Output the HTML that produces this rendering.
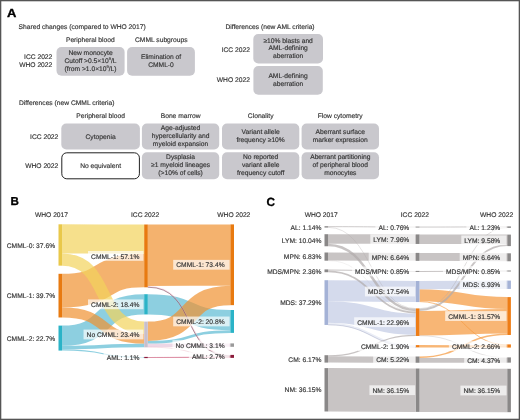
<!DOCTYPE html>
<html><head><meta charset="utf-8"><style>
html,body{margin:0;padding:0;background:#fff;}
body{width:520px;height:420px;overflow:hidden;}
svg{display:block;will-change:transform;text-rendering:geometricPrecision;font-family:"Liberation Sans",sans-serif;font-size:6.7px;fill:#333;}
text{stroke:#333;stroke-width:0.15px;}
</style></head><body>
<svg width="520" height="420" viewBox="0 0 520 420">
<rect x="0" y="0" width="520" height="420" fill="#fff"/>
<text transform="translate(6.9,16.85) scale(1.1,1)" font-size="11.8" font-weight="bold" fill="#000" style="stroke:#000;stroke-width:0.35px">A</text>
<text x="18.60" y="29.00">Shared changes (compared to WHO 2017)</text>
<text x="90.30" y="42.00" text-anchor="middle">Peripheral blood</text>
<text x="161.30" y="42.00" text-anchor="middle">CMML subgroups</text>
<text x="52.30" y="59.10" text-anchor="end">ICC 2022</text>
<text x="52.30" y="66.90" text-anchor="end">WHO 2022</text>
<rect x="56.50" y="47.00" width="68.10" height="28.70" rx="5" fill="#c9c8cd"/>
<text x="90.50" y="55.10" text-anchor="middle">New monocyte</text>
<text x="90.5" y="62.9" text-anchor="middle">Cutoff &gt;0.5×10<tspan font-size="4" dy="-2.6">9</tspan><tspan dy="2.6">/L</tspan></text>
<text x="90.5" y="70.6" text-anchor="middle">(from &gt;1.0×10<tspan font-size="4" dy="-2.6">9</tspan><tspan dy="2.6">/L)</tspan></text>
<rect x="127.10" y="47.00" width="67.80" height="28.70" rx="5" fill="#c9c8cd"/>
<text x="161.00" y="59.10" text-anchor="middle">Elimination of</text>
<text x="161.00" y="66.90" text-anchor="middle">CMML-0</text>
<text x="225.40" y="28.50">Differences (new AML criteria)</text>
<text x="249.90" y="51.50" text-anchor="end">ICC 2022</text>
<text x="249.90" y="82.00" text-anchor="end">WHO 2022</text>
<rect x="253.30" y="34.10" width="69.70" height="29.40" rx="5" fill="#c9c8cd"/>
<text x="288.15" y="42.50" text-anchor="middle">≥10% blasts and</text>
<text x="288.15" y="50.30" text-anchor="middle">AML-defining</text>
<text x="288.15" y="58.10" text-anchor="middle">aberration</text>
<rect x="253.40" y="66.00" width="69.40" height="28.80" rx="5" fill="#c9c8cd"/>
<text x="288.10" y="77.85" text-anchor="middle">AML-defining</text>
<text x="288.10" y="85.65" text-anchor="middle">aberration</text>
<text x="19.00" y="104.80">Differences (new CMML criteria)</text>
<text x="100.60" y="118.20" text-anchor="middle">Peripheral blood</text>
<text x="180.60" y="118.20" text-anchor="middle">Bone marrow</text>
<text x="260.70" y="118.20" text-anchor="middle">Clonality</text>
<text x="340.20" y="118.20" text-anchor="middle">Flow cytometry</text>
<text x="58.30" y="138.70" text-anchor="end">ICC 2022</text>
<text x="58.30" y="168.00" text-anchor="end">WHO 2022</text>
<rect x="61.30" y="123.50" width="78.60" height="26.00" rx="5" fill="#c9c8cd"/>
<text x="100.60" y="138.50" text-anchor="middle">Cytopenia</text>
<rect x="141.90" y="123.50" width="77.30" height="26.00" rx="5" fill="#c9c8cd"/>
<text x="180.55" y="130.10" text-anchor="middle">Age-adjusted</text>
<text x="180.55" y="137.90" text-anchor="middle">hypercellularity and</text>
<text x="180.55" y="145.70" text-anchor="middle">myeloid expansion</text>
<rect x="222.00" y="123.50" width="77.30" height="26.00" rx="5" fill="#c9c8cd"/>
<text x="260.65" y="134.10" text-anchor="middle">Variant allele</text>
<text x="260.65" y="141.90" text-anchor="middle">frequency ≥10%</text>
<rect x="301.60" y="123.50" width="77.40" height="26.00" rx="5" fill="#c9c8cd"/>
<text x="340.30" y="134.10" text-anchor="middle">Aberrant surface</text>
<text x="340.30" y="141.90" text-anchor="middle">marker expression</text>
<rect x="61.80" y="152.80" width="77.60" height="26.00" rx="5" fill="#fff" stroke="#222" stroke-width="1"/>
<text x="100.60" y="167.60" text-anchor="middle">No equivalent</text>
<rect x="141.90" y="152.30" width="77.30" height="27.00" rx="5" fill="#c9c8cd"/>
<text x="180.55" y="159.40" text-anchor="middle">Dysplasia</text>
<text x="180.55" y="167.20" text-anchor="middle">≥1 myeloid lineages</text>
<text x="180.55" y="175.00" text-anchor="middle">(&gt;10% of cells)</text>
<rect x="222.00" y="152.30" width="77.30" height="27.00" rx="5" fill="#c9c8cd"/>
<text x="260.65" y="159.40" text-anchor="middle">No reported</text>
<text x="260.65" y="167.20" text-anchor="middle">variant allele</text>
<text x="260.65" y="175.00" text-anchor="middle">frequency cutoff</text>
<rect x="301.60" y="152.30" width="77.40" height="27.00" rx="5" fill="#c9c8cd"/>
<text x="340.30" y="159.40" text-anchor="middle">Aberrant partitioning</text>
<text x="340.30" y="167.20" text-anchor="middle">of peripheral blood</text>
<text x="340.30" y="175.00" text-anchor="middle">monocytes</text>
<text transform="translate(10.6,205.0) scale(1.0,1)" font-size="11.6" font-weight="bold" fill="#000" style="stroke:#000;stroke-width:0.3px">B</text>
<text x="51.50" y="216.70" text-anchor="middle">WHO 2017</text>
<text x="145.10" y="216.70" text-anchor="middle">ICC 2022</text>
<text x="233.80" y="216.70" text-anchor="middle">WHO 2022</text>
<path d="M147.80,255.19 C197.36,255.19 180.84,255.09 230.40,255.09" fill="none" stroke="#ef9230" stroke-opacity="0.7" stroke-width="61.38"/>
<path d="M62.10,290.63 C111.36,290.63 94.94,270.48 144.20,270.48" fill="none" stroke="#ef9230" stroke-opacity="0.7" stroke-width="33.66"/>
<path d="M62.10,238.88 C111.36,238.88 94.94,239.07 144.20,239.07" fill="none" stroke="#f2d35b" stroke-opacity="0.7" stroke-width="29.15"/>
<path d="M62.10,335.72 C111.36,335.72 94.94,304.32 144.20,304.32" fill="none" stroke="#5cbad3" stroke-opacity="0.7" stroke-width="20.24"/>
<path d="M147.80,304.32 C197.36,304.32 180.84,320.12 230.40,320.12" fill="none" stroke="#5cbad3" stroke-opacity="0.7" stroke-width="20.24"/>
<path d="M147.80,331.28 C197.36,331.28 180.84,295.46 230.40,295.46" fill="none" stroke="#ef9230" stroke-opacity="0.7" stroke-width="19.36"/>
<path d="M62.10,259.56 C111.36,259.56 94.94,327.71 144.20,327.71" fill="none" stroke="#f2d35b" stroke-opacity="0.7" stroke-width="12.21"/>
<path d="M62.10,312.47 C111.36,312.47 94.94,338.81 144.20,338.81" fill="none" stroke="#ef9230" stroke-opacity="0.7" stroke-width="10.01"/>
<path d="M62.10,347.60 C111.36,347.60 94.94,345.58 144.20,345.58" fill="none" stroke="#5cbad3" stroke-opacity="0.7" stroke-width="3.52"/>
<path d="M147.80,345.31 C197.36,345.31 180.84,345.11 230.40,345.11" fill="none" stroke="#e6c6dc" stroke-opacity="0.7" stroke-width="3.41"/>
<path d="M147.80,342.28 C197.36,342.28 180.84,331.56 230.40,331.56" fill="none" stroke="#5cbad3" stroke-opacity="0.7" stroke-width="2.64"/>
<path d="M147.80,286.60 C197.36,286.60 180.84,355.62 230.40,355.62" fill="none" stroke="#f0b0c4" stroke-opacity="0.45" stroke-width="1.43"/>
<path d="M147.80,287.20 C197.36,287.20 180.84,356.22 230.40,356.22" fill="none" stroke="#6a4050" stroke-opacity="0.75" stroke-width="0.7"/>
<path d="M62.10,349.97 C111.36,349.97 94.94,357.50 144.20,357.50" fill="none" stroke="#5cbad3" stroke-opacity="0.7" stroke-width="1.21"/>
<path d="M147.80,357.50 C197.36,357.50 180.84,357.26 230.40,357.26" fill="none" stroke="#e890a8" stroke-opacity="0.6" stroke-width="1.21"/>
<path d="M147.80,357.50 C197.36,357.50 180.84,357.26 230.40,357.26" fill="none" stroke="#b03050" stroke-opacity="0.6" stroke-width="0.5"/>
<path d="M147.80,347.18 C197.36,347.18 180.84,356.50 230.40,356.50" fill="none" stroke="#d06080" stroke-opacity="0.6" stroke-width="0.33"/>
<rect x="58.50" y="224.30" width="3.60" height="41.36" rx="0" fill="#e9c84a"/>
<rect x="58.50" y="273.80" width="3.60" height="43.67" rx="0" fill="#e87a10"/>
<rect x="58.50" y="325.60" width="3.60" height="24.97" rx="0" fill="#2bb3c7"/>
<rect x="144.20" y="224.50" width="3.60" height="62.81" rx="0" fill="#e87a10"/>
<rect x="144.20" y="294.20" width="3.60" height="20.24" rx="0" fill="#2bb3c7"/>
<rect x="144.20" y="321.60" width="3.60" height="25.74" rx="0" fill="#c8bfcc"/>
<rect x="144.20" y="356.90" width="3.60" height="1.21" rx="0" fill="#8b1a3a"/>
<rect x="230.40" y="224.40" width="3.60" height="80.74" rx="0" fill="#e87a10"/>
<rect x="230.40" y="310.00" width="3.60" height="22.88" rx="0" fill="#2bb3c7"/>
<rect x="230.40" y="343.40" width="3.60" height="3.41" rx="0" fill="#9a9a9a"/>
<rect x="230.40" y="354.90" width="3.60" height="2.97" rx="0" fill="#8b1a3a"/>
<text x="55.10" y="247.68" text-anchor="end">CMML-0: 37.6%</text>
<text x="55.10" y="298.33" text-anchor="end">CMML-1: 39.7%</text>
<text x="55.10" y="340.79" text-anchor="end">CMML-2: 22.7%</text>
<rect x="88.00" y="251.00" width="55.40" height="9.80" rx="0" fill="#fff" fill-opacity="0.68"/>
<text x="139.40" y="258.61" text-anchor="end">CMML-1: 57.1%</text>
<rect x="88.00" y="299.42" width="55.40" height="9.80" rx="0" fill="#fff" fill-opacity="0.68"/>
<text x="139.40" y="307.02" text-anchor="end">CMML-2: 18.4%</text>
<rect x="83.53" y="329.57" width="59.87" height="9.80" rx="0" fill="#fff" fill-opacity="0.68"/>
<text x="139.40" y="337.17" text-anchor="end">No CMML: 23.4%</text>
<rect x="103.63" y="352.61" width="39.77" height="9.80" rx="0" fill="#fff" fill-opacity="0.68"/>
<text x="139.40" y="360.20" text-anchor="end">AML: 1.1%</text>
<rect x="173.20" y="259.87" width="56.40" height="9.80" rx="0" fill="#fff" fill-opacity="0.68"/>
<text x="224.60" y="267.47" text-anchor="end">CMML-1: 73.4%</text>
<rect x="173.20" y="316.54" width="56.40" height="9.80" rx="0" fill="#fff" fill-opacity="0.68"/>
<text x="224.60" y="324.14" text-anchor="end">CMML-2: 20.8%</text>
<rect x="172.45" y="340.20" width="57.15" height="9.80" rx="0" fill="#fff" fill-opacity="0.68"/>
<text x="224.60" y="347.80" text-anchor="end">No CMML: 3.1%</text>
<rect x="188.83" y="351.49" width="40.77" height="9.80" rx="0" fill="#fff" fill-opacity="0.68"/>
<text x="224.60" y="359.08" text-anchor="end">AML: 2.7%</text>
<text transform="translate(266.5,205.9) scale(1.0,1)" font-size="11.8" font-weight="bold" fill="#000" style="stroke:#000;stroke-width:0.3px">C</text>
<text x="321.20" y="216.60" text-anchor="middle">WHO 2017</text>
<text x="414.90" y="216.90" text-anchor="middle">ICC 2022</text>
<text x="496.60" y="216.90" text-anchor="middle">WHO 2022</text>
<path d="M328.10,389.79 C372.00,389.79 372.00,390.19 415.90,390.19" fill="none" stroke="#b0abab" stroke-opacity="0.7" stroke-width="43.38"/>
<path d="M419.50,390.19 C463.40,390.19 463.40,390.49 507.30,390.49" fill="none" stroke="#b0abab" stroke-opacity="0.7" stroke-width="43.38"/>
<path d="M419.50,323.19 C463.40,323.19 463.40,321.20 507.30,321.20" fill="none" stroke="#f5973a" stroke-opacity="0.7" stroke-width="24.56"/>
<path d="M328.10,311.96 C372.00,311.96 372.00,324.10 415.90,324.10" fill="none" stroke="#c2cae4" stroke-opacity="0.7" stroke-width="21.42"/>
<path d="M328.10,290.72 C372.00,290.72 372.00,291.52 415.90,291.52" fill="none" stroke="#c2cae4" stroke-opacity="0.7" stroke-width="21.05"/>
<path d="M419.50,295.23 C463.40,295.23 463.40,303.01 507.30,303.01" fill="none" stroke="#f5973a" stroke-opacity="0.7" stroke-width="11.82"/>
<path d="M328.10,238.98 C372.00,238.98 372.00,239.18 415.90,239.18" fill="none" stroke="#b0abab" stroke-opacity="0.7" stroke-width="9.55"/>
<path d="M419.50,239.18 C463.40,239.18 463.40,239.38 507.30,239.38" fill="none" stroke="#b0abab" stroke-opacity="0.7" stroke-width="9.55"/>
<path d="M419.50,285.16 C463.40,285.16 463.40,284.76 507.30,284.76" fill="none" stroke="#c2cae4" stroke-opacity="0.7" stroke-width="8.32"/>
<path d="M328.10,256.48 C372.00,256.48 372.00,256.88 415.90,256.88" fill="none" stroke="#b0abab" stroke-opacity="0.7" stroke-width="7.97"/>
<path d="M419.50,256.88 C463.40,256.88 463.40,257.28 507.30,257.28" fill="none" stroke="#b0abab" stroke-opacity="0.7" stroke-width="7.97"/>
<path d="M328.10,359.47 C372.00,359.47 372.00,359.63 415.90,359.63" fill="none" stroke="#b0abab" stroke-opacity="0.7" stroke-width="6.26"/>
<path d="M419.50,360.38 C463.40,360.38 463.40,360.26 507.30,360.26" fill="none" stroke="#b0abab" stroke-opacity="0.7" stroke-width="4.76"/>
<path d="M328.10,245.00 C372.00,245.00 372.00,310.10 415.90,310.10" fill="none" stroke="#b0abab" stroke-opacity="0.7" stroke-width="2.50"/>
<path d="M328.10,323.81 C372.00,323.81 372.00,346.24 415.90,346.24" fill="none" stroke="#c2cae4" stroke-opacity="0.35" stroke-width="2.28"/>
<path d="M328.10,324.81 C372.00,324.81 372.00,347.24 415.90,347.24" fill="none" stroke="#8890b0" stroke-opacity="0.6" stroke-width="0.6"/>
<path d="M419.50,346.24 C463.40,346.24 463.40,346.45 507.30,346.45" fill="none" stroke="#f5973a" stroke-opacity="0.7" stroke-width="2.28"/>
<path d="M419.50,309.94 C463.40,309.94 463.40,245.12 507.30,245.12" fill="none" stroke="#b0abab" stroke-opacity="0.7" stroke-width="1.94"/>
<path d="M328.10,271.33 C372.00,271.33 372.00,312.49 415.90,312.49" fill="none" stroke="#b0abab" stroke-opacity="0.7" stroke-width="1.81"/>
<path d="M419.50,357.25 C463.40,357.25 463.40,334.23 507.30,334.23" fill="none" stroke="#f5973a" stroke-opacity="0.7" stroke-width="1.50"/>
<path d="M328.10,355.77 C372.00,355.77 372.00,335.38 415.90,335.38" fill="none" stroke="#b0abab" stroke-opacity="0.7" stroke-width="1.14"/>
<path d="M328.10,269.91 C372.00,269.91 372.00,271.41 415.90,271.41" fill="none" stroke="#b0abab" stroke-opacity="0.7" stroke-width="1.02"/>
<path d="M419.50,271.41 C463.40,271.41 463.40,271.01 507.30,271.01" fill="none" stroke="#b0abab" stroke-opacity="0.7" stroke-width="1.02"/>
<path d="M328.10,226.66 C372.00,226.66 372.00,227.06 415.90,227.06" fill="none" stroke="#b0abab" stroke-opacity="0.7" stroke-width="0.91"/>
<path d="M419.50,227.06 C463.40,227.06 463.40,226.86 507.30,226.86" fill="none" stroke="#b0abab" stroke-opacity="0.7" stroke-width="0.91"/>
<path d="M419.50,301.59 C463.40,301.59 463.40,344.86 507.30,344.86" fill="none" stroke="#f5973a" stroke-opacity="0.7" stroke-width="0.91"/>
<path d="M419.50,308.68 C463.40,308.68 463.40,227.59 507.30,227.59" fill="none" stroke="#b0abab" stroke-opacity="0.7" stroke-width="0.56"/>
<path d="M419.50,335.71 C463.40,335.71 463.40,357.64 507.30,357.64" fill="none" stroke="#b0abab" stroke-opacity="0.7" stroke-width="0.48"/>
<path d="M328.10,227.34 C372.00,227.34 372.00,308.63 415.90,308.63" fill="none" stroke="#b0abab" stroke-opacity="0.7" stroke-width="0.46"/>
<path d="M328.10,260.58 C372.00,260.58 372.00,311.47 415.90,311.47" fill="none" stroke="#b0abab" stroke-opacity="0.7" stroke-width="0.23"/>
<rect x="324.50" y="226.20" width="3.60" height="1.37" rx="0" fill="#8a8888"/>
<rect x="324.50" y="234.20" width="3.60" height="12.05" rx="0" fill="#8a8888"/>
<rect x="324.50" y="252.50" width="3.60" height="8.20" rx="0" fill="#8a8888"/>
<rect x="324.50" y="269.40" width="3.60" height="2.83" rx="0" fill="#8a8888"/>
<rect x="324.50" y="280.20" width="3.60" height="44.75" rx="0" fill="#a4b2d6"/>
<rect x="324.50" y="355.20" width="3.60" height="7.40" rx="0" fill="#8a8888"/>
<rect x="324.50" y="368.10" width="3.60" height="43.38" rx="0" fill="#8a8888"/>
<rect x="415.90" y="226.60" width="3.60" height="0.91" rx="0" fill="#8a8888"/>
<rect x="415.90" y="234.40" width="3.60" height="9.55" rx="0" fill="#8a8888"/>
<rect x="415.90" y="252.90" width="3.60" height="7.97" rx="0" fill="#8a8888"/>
<rect x="415.90" y="270.90" width="3.60" height="1.02" rx="0" fill="#8a8888"/>
<rect x="415.90" y="281.00" width="3.60" height="21.05" rx="0" fill="#a4b2d6"/>
<rect x="415.90" y="308.40" width="3.60" height="27.55" rx="0" fill="#ee7d16"/>
<rect x="415.90" y="345.10" width="3.60" height="2.28" rx="0" fill="#ee7d16"/>
<rect x="415.90" y="356.50" width="3.60" height="6.26" rx="0" fill="#8a8888"/>
<rect x="415.90" y="368.50" width="3.60" height="43.38" rx="0" fill="#8a8888"/>
<rect x="507.30" y="226.40" width="3.60" height="1.48" rx="0" fill="#8a8888"/>
<rect x="507.30" y="234.60" width="3.60" height="11.50" rx="0" fill="#8a8888"/>
<rect x="507.30" y="253.30" width="3.60" height="7.97" rx="0" fill="#8a8888"/>
<rect x="507.30" y="270.50" width="3.60" height="1.02" rx="0" fill="#8a8888"/>
<rect x="507.30" y="280.60" width="3.60" height="8.32" rx="0" fill="#a4b2d6"/>
<rect x="507.30" y="297.10" width="3.60" height="37.88" rx="0" fill="#ee7d16"/>
<rect x="507.30" y="344.40" width="3.60" height="3.19" rx="0" fill="#ee7d16"/>
<rect x="507.30" y="357.40" width="3.60" height="5.24" rx="0" fill="#8a8888"/>
<rect x="507.30" y="368.80" width="3.60" height="43.38" rx="0" fill="#8a8888"/>
<text x="321.40" y="229.58" text-anchor="end">AL: 1.14%</text>
<text x="321.40" y="242.92" text-anchor="end">LYM: 10.04%</text>
<text x="321.40" y="259.30" text-anchor="end">MPN: 6.83%</text>
<text x="321.40" y="273.52" text-anchor="end">MDS/MPN: 2.36%</text>
<text x="321.40" y="305.27" text-anchor="end">MDS: 37.29%</text>
<text x="321.40" y="361.60" text-anchor="end">CM: 6.17%</text>
<text x="321.40" y="392.49" text-anchor="end">NM: 36.15%</text>
<rect x="375.38" y="222.16" width="39.72" height="9.80" rx="0" fill="#fff" fill-opacity="0.68"/>
<text x="409.30" y="229.76" text-anchor="end">AL: 0.76%</text>
<rect x="370.30" y="234.28" width="44.80" height="9.80" rx="0" fill="#fff" fill-opacity="0.68"/>
<text x="409.30" y="241.88" text-anchor="end">LYM: 7.96%</text>
<rect x="368.69" y="251.98" width="46.41" height="9.80" rx="0" fill="#fff" fill-opacity="0.68"/>
<text x="409.30" y="259.58" text-anchor="end">MPN: 6.64%</text>
<rect x="351.94" y="266.51" width="63.16" height="9.80" rx="0" fill="#fff" fill-opacity="0.68"/>
<text x="409.30" y="274.11" text-anchor="end">MDS/MPN: 0.85%</text>
<rect x="364.96" y="286.62" width="50.14" height="9.80" rx="0" fill="#fff" fill-opacity="0.68"/>
<text x="409.30" y="294.22" text-anchor="end">MDS: 17.54%</text>
<rect x="354.17" y="317.28" width="60.93" height="9.80" rx="0" fill="#fff" fill-opacity="0.68"/>
<text x="409.30" y="324.88" text-anchor="end">CMML-1: 22.96%</text>
<rect x="357.90" y="341.34" width="57.20" height="9.80" rx="0" fill="#fff" fill-opacity="0.68"/>
<text x="409.30" y="348.94" text-anchor="end">CMML-2: 1.90%</text>
<rect x="373.16" y="354.73" width="41.94" height="9.80" rx="0" fill="#fff" fill-opacity="0.68"/>
<text x="409.30" y="362.33" text-anchor="end">CM: 5.22%</text>
<rect x="369.43" y="385.29" width="45.67" height="9.80" rx="0" fill="#fff" fill-opacity="0.68"/>
<text x="409.30" y="392.89" text-anchor="end">NM: 36.15%</text>
<rect x="466.38" y="222.24" width="40.12" height="9.80" rx="0" fill="#fff" fill-opacity="0.68"/>
<text x="500.30" y="229.84" text-anchor="end">AL: 1.23%</text>
<rect x="461.30" y="235.45" width="45.20" height="9.80" rx="0" fill="#fff" fill-opacity="0.68"/>
<text x="500.30" y="243.05" text-anchor="end">LYM: 9.58%</text>
<rect x="459.69" y="252.38" width="46.81" height="9.80" rx="0" fill="#fff" fill-opacity="0.68"/>
<text x="500.30" y="259.98" text-anchor="end">MPN: 6.64%</text>
<rect x="442.94" y="266.11" width="63.56" height="9.80" rx="0" fill="#fff" fill-opacity="0.68"/>
<text x="500.30" y="273.71" text-anchor="end">MDS/MPN: 0.85%</text>
<rect x="459.69" y="279.86" width="46.81" height="9.80" rx="0" fill="#fff" fill-opacity="0.68"/>
<text x="500.30" y="287.46" text-anchor="end">MDS: 6.93%</text>
<rect x="445.17" y="311.14" width="61.33" height="9.80" rx="0" fill="#fff" fill-opacity="0.68"/>
<text x="500.30" y="318.74" text-anchor="end">CMML-1: 31.57%</text>
<rect x="448.90" y="341.10" width="57.60" height="9.80" rx="0" fill="#fff" fill-opacity="0.68"/>
<text x="500.30" y="348.70" text-anchor="end">CMML-2: 2.66%</text>
<rect x="464.16" y="355.12" width="42.34" height="9.80" rx="0" fill="#fff" fill-opacity="0.68"/>
<text x="500.30" y="362.72" text-anchor="end">CM: 4.37%</text>
<rect x="460.43" y="385.59" width="46.07" height="9.80" rx="0" fill="#fff" fill-opacity="0.68"/>
<text x="500.30" y="393.19" text-anchor="end">NM: 36.15%</text>
<rect x="0.65" y="0.65" width="518.7" height="418.7" fill="none" stroke="#555" stroke-width="1.3"/>
</svg>
</body></html>
